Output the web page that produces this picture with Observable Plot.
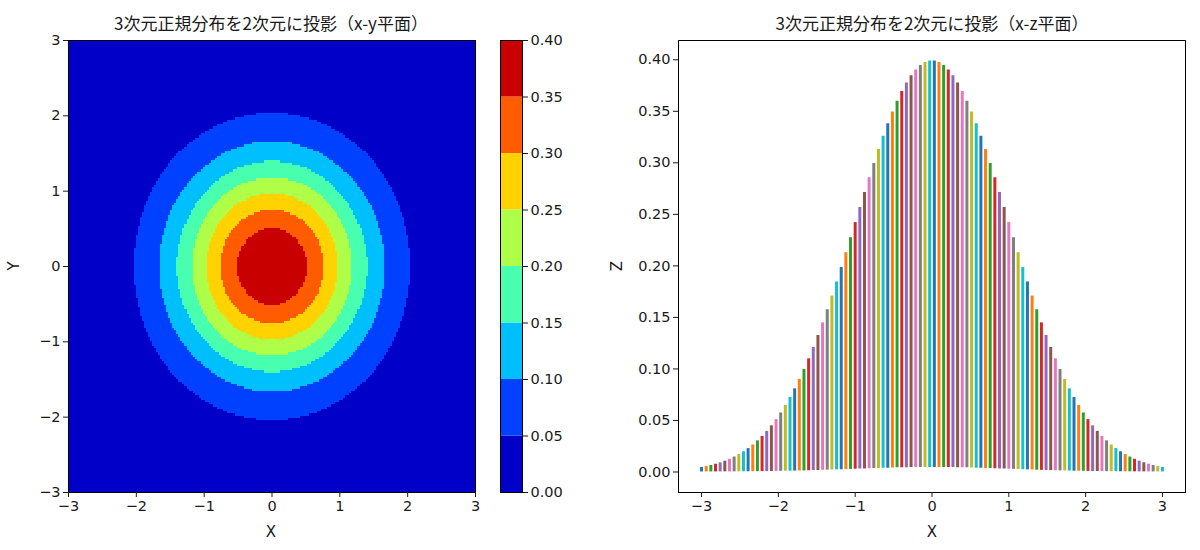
<!DOCTYPE html>
<html><head><meta charset="utf-8">
<script src="https://cdn.jsdelivr.net/npm/d3@7"></script>
<script src="https://cdn.jsdelivr.net/npm/@observablehq/plot@0.6"></script>
<style>
body{margin:0;background:#fff;font-family:"Noto Sans CJK JP","Noto Sans",sans-serif;}
#wrap{position:relative;width:1200px;height:550px;overflow:hidden;background:#fff;}
.abs{position:absolute;}
.title{font-family:"Noto Sans CJK JP",sans-serif;font-size:17px;color:#1a1a1a;white-space:nowrap;transform:translate(-50%,-50%);line-height:1;}
.lab{font-family:"DejaVu Sans",sans-serif;font-size:15px;color:#1a1a1a;line-height:1;transform:translate(-50%,-50%);}
.rot{transform:translate(-50%,-50%) rotate(-90deg);}
</style></head><body><div id="wrap"></div>
<script>
// ---- data ----
const levels = [0.00, 0.05, 0.10, 0.15, 0.20, 0.25, 0.30, 0.35, 0.40];
const levelColors = ["#0000c8", "#0040ff", "#00bfff", "#48ffaf", "#afff48", "#ffd200", "#ff5c00", "#c80000"];
// radius where the surface crosses levels 0.05 ... 0.35
const contourRadii = [2.04, 1.66, 1.40, 1.18, 0.97, 0.76, 0.51];
const axisTicks = [-3, -2, -1, 0, 1, 2, 3];
const zTicks = [0.00, 0.05, 0.10, 0.15, 0.20, 0.25, 0.30, 0.35, 0.40];
const xs = [-3.0000,-2.9394,-2.8788,-2.8182,-2.7576,-2.6970,-2.6364,-2.5758,-2.5152,-2.4545,
 -2.3939,-2.3333,-2.2727,-2.2121,-2.1515,-2.0909,-2.0303,-1.9697,-1.9091,-1.8485,
 -1.7879,-1.7273,-1.6667,-1.6061,-1.5455,-1.4848,-1.4242,-1.3636,-1.3030,-1.2424,
 -1.1818,-1.1212,-1.0606,-1.0000,-0.9394,-0.8788,-0.8182,-0.7576,-0.6970,-0.6364,
 -0.5758,-0.5152,-0.4545,-0.3939,-0.3333,-0.2727,-0.2121,-0.1515,-0.0909,-0.0303,
 0.0303,0.0909,0.1515,0.2121,0.2727,0.3333,0.3939,0.4545,0.5152,0.5758,
 0.6364,0.6970,0.7576,0.8182,0.8788,0.9394,1.0000,1.0606,1.1212,1.1818,
 1.2424,1.3030,1.3636,1.4242,1.4848,1.5455,1.6061,1.6667,1.7273,1.7879,
 1.8485,1.9091,1.9697,2.0303,2.0909,2.1515,2.2121,2.2727,2.3333,2.3939,
 2.4545,2.5152,2.5758,2.6364,2.6970,2.7576,2.8182,2.8788,2.9394,3.0000];
const zTop = [0.0044,0.0053,0.0063,0.0075,0.0089,0.0105,0.0123,0.0145,0.0169,0.0196,
 0.0227,0.0262,0.0302,0.0345,0.0394,0.0448,0.0508,0.0573,0.0645,0.0723,
 0.0807,0.0898,0.0995,0.1098,0.1209,0.1325,0.1447,0.1574,0.1707,0.1844,
 0.1984,0.2128,0.2273,0.2420,0.2566,0.2712,0.2855,0.2994,0.3129,0.3258,
 0.3380,0.3494,0.3598,0.3692,0.3774,0.3844,0.3901,0.3944,0.3973,0.3988,
 0.3988,0.3973,0.3944,0.3901,0.3844,0.3774,0.3692,0.3598,0.3494,0.3380,
 0.3258,0.3129,0.2994,0.2855,0.2712,0.2566,0.2420,0.2273,0.2128,0.1984,
 0.1844,0.1707,0.1574,0.1447,0.1325,0.1209,0.1098,0.0995,0.0898,0.0807,
 0.0723,0.0645,0.0573,0.0508,0.0448,0.0394,0.0345,0.0302,0.0262,0.0227,
 0.0196,0.0169,0.0145,0.0123,0.0105,0.0089,0.0075,0.0063,0.0053,0.0044];
const zBottom = [0.00005,0.00006,0.00007,0.00008,0.00010,0.00012,0.00014,0.00016,0.00019,0.00022,
 0.00025,0.00029,0.00033,0.00038,0.00044,0.00050,0.00056,0.00064,0.00072,0.00080,
 0.00090,0.00100,0.00110,0.00122,0.00134,0.00147,0.00161,0.00175,0.00190,0.00205,
 0.00220,0.00236,0.00253,0.00269,0.00285,0.00301,0.00317,0.00333,0.00348,0.00362,
 0.00375,0.00388,0.00400,0.00410,0.00419,0.00427,0.00433,0.00438,0.00441,0.00443,
 0.00443,0.00441,0.00438,0.00433,0.00427,0.00419,0.00410,0.00400,0.00388,0.00375,
 0.00362,0.00348,0.00333,0.00317,0.00301,0.00285,0.00269,0.00253,0.00236,0.00220,
 0.00205,0.00190,0.00175,0.00161,0.00147,0.00134,0.00122,0.00110,0.00100,0.00090,
 0.00080,0.00072,0.00064,0.00056,0.00050,0.00044,0.00038,0.00033,0.00029,0.00025,
 0.00022,0.00019,0.00016,0.00014,0.00012,0.00010,0.00008,0.00007,0.00006,0.00005];
const tab10 = ["#1f77b4","#ff7f0e","#2ca02c","#d62728","#9467bd","#8c564b","#e377c2","#7f7f7f","#bcbd22","#17becf"];
const leftTitle = "3次元正規分布を2次元に投影（x-y平面）";
const rightTitle = "3次元正規分布を2次元に投影（x-z平面）";

// ---- layout helpers ----
const wrap = document.getElementById("wrap");
function place(node, left, top) {
  const d = document.createElement("div");
  d.className = "abs"; d.style.left = left + "px"; d.style.top = top + "px";
  d.appendChild(node); wrap.appendChild(d); return d;
}
function text(str, cls, x, y) {
  const d = document.createElement("div");
  d.className = "abs " + cls; d.textContent = str;
  d.style.left = x + "px"; d.style.top = y + "px";
  wrap.appendChild(d);
}
const style = {fontFamily: '"DejaVu Sans",sans-serif', fontSize: "14.5px", color: "#1a1a1a", background: "transparent", overflow: "visible"};
const fmtInt = d3.format("d");
const fmt2 = d3.format(".2f");

// ---- left: x-y plane ----
function bandValue(x, y) {
  const r = Math.hypot(x, y);
  const k = contourRadii.filter(R => r < R).length;
  return (levels[k] + levels[k + 1]) / 2;
}
const left = Plot.plot({
  width: 490, height: 530, marginLeft: 68, marginRight: 15, marginTop: 40, marginBottom: 38,
  style,
  x: {domain: [-3, 3]}, y: {domain: [-3, 3]},
  color: {type: "threshold", domain: levels.slice(1, -1), range: levelColors},
  marks: [
    Plot.raster({x1: -3, y1: -3, x2: 3, y2: 3, width: 200, height: 200, imageRendering: "pixelated", fill: bandValue}),
    Plot.frame({stroke: "#000", strokeWidth: 1}),
    Plot.axisX({ticks: axisTicks, tickFormat: fmtInt, tickSize: 5, tickPadding: 3, label: null}),
    Plot.axisY({ticks: axisTicks, tickFormat: fmtInt, tickSize: 5, tickPadding: 3, label: null})
  ]
});
place(left, 0, 0);

// ---- colorbar ----
const bands = levelColors.map((c, i) => ({lo: levels[i], hi: levels[i + 1], mid: (levels[i] + levels[i + 1]) / 2}));
const cbar = Plot.plot({
  width: 90, height: 530, marginLeft: 20, marginRight: 48, marginTop: 40, marginBottom: 38,
  style,
  x: {domain: [0, 1], axis: null},
  y: {domain: [0, 0.4]},
  color: {type: "threshold", domain: levels.slice(1, -1), range: levelColors},
  marks: [
    Plot.rect(bands, {x1: () => 0, x2: () => 1, y1: "lo", y2: "hi", fill: "mid"}),
    Plot.frame({stroke: "#000", strokeWidth: 1}),
    Plot.axisY({anchor: "right", ticks: zTicks, tickFormat: fmt2, tickSize: 5, tickPadding: 3, label: null})
  ]
});
place(cbar, 480, 0);

// ---- right: x-z plane ----
const bars = xs.map((x, i) => ({x, lo: zBottom[i], hi: zTop[i], c: tab10[i % 10]}));
const right = Plot.plot({
  width: 600, height: 530, marginLeft: 78, marginRight: 15, marginTop: 40, marginBottom: 38,
  style,
  x: {domain: [-3.3, 3.3]},
  y: {domain: [-0.0199, 0.4187]},
  color: {type: "identity"},
  marks: [
    Plot.ruleX(bars, {x: "x", y1: "lo", y2: "hi", stroke: "c", strokeWidth: 3}),
    Plot.frame({stroke: "#000", strokeWidth: 1}),
    Plot.axisX({ticks: axisTicks, tickFormat: fmtInt, tickSize: 5, tickPadding: 3, label: null}),
    Plot.axisY({ticks: zTicks, tickFormat: fmt2, tickSize: 5, tickPadding: 3, label: null})
  ]
});
place(right, 600, 0);

// ---- text ----
text(leftTitle, "title", 271, 22);
text(rightTitle, "title", 932, 22);
text("X", "lab", 271, 532);
text("X", "lab", 932, 532);
text("Y", "lab rot", 14, 266);
text("Z", "lab rot", 617, 266);
</script></body></html>
